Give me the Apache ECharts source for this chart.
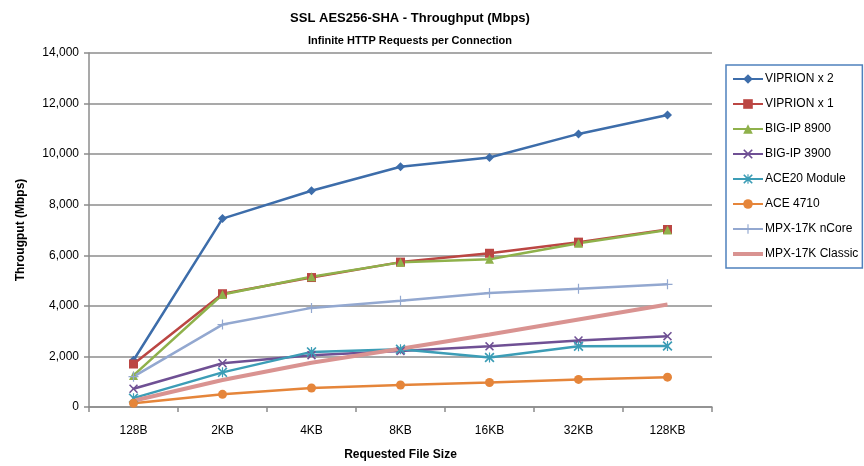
<!DOCTYPE html>
<html>
<head>
<meta charset="utf-8">
<script src="https://cdn.jsdelivr.net/npm/echarts@6/dist/echarts.min.js"></script>
<style>
  html, body { margin: 0; padding: 0; background: #fff; }
  #chart { width: 864px; height: 466px; }
</style>
</head>
<body>
<div id="chart"></div>
<script>
// Request file sizes on the x axis
const fileSizes = ['128B', '2KB', '4KB', '8KB', '16KB', '32KB', '128KB'];

// Throughput per platform (Mbps)
const viprion2   = [1850, 7450, 8550, 9500, 9870, 10800, 11550];
const viprion1   = [1700, 4480, 5120, 5730, 6080, 6520, 7020];
const bigip8900  = [1250, 4450, 5150, 5720, 5840, 6480, 7000];
const bigip3900  = [720, 1730, 2050, 2210, 2400, 2630, 2800];
const ace20      = [350, 1370, 2180, 2280, 1960, 2400, 2410];
const ace4710    = [150, 500, 750, 870, 970, 1090, 1180];
const mpxNCore   = [1200, 3260, 3920, 4200, 4510, 4680, 4850];
const mpxClassic = [250, 1070, 1750, 2300, 2870, 3460, 4050];

const yTicks = { min: 0, max: 14000, step: 2000 };

const FONT = '"Liberation Sans", "DejaVu Sans", sans-serif';

// Marker shapes
const xMark = 'path://M0,1.2 L1.2,0 L5,3.8 L8.8,0 L10,1.2 L6.2,5 L10,8.8 L8.8,10 L5,6.2 L1.2,10 L0,8.8 L3.8,5 Z';
const asterisk = 'path://M0,1.2 L1.2,0 L5,3.8 L8.8,0 L10,1.2 L6.2,5 L10,8.8 L8.8,10 L5,6.2 L1.2,10 L0,8.8 L3.8,5 Z M4.4,0 L5.6,0 L5.6,10 L4.4,10 Z';
const plusMark = 'path://M4.4,0 L5.6,0 L5.6,4.4 L10,4.4 L10,5.6 L5.6,5.6 L5.6,10 L4.4,10 L4.4,5.6 L0,5.6 L0,4.4 L4.4,4.4 Z';
const plainLine = 'path://M0,0 L30,0 L30,4 L0,4 Z';

function makeSeries(name, data, color, symbol, size, width) {
  return {
    name: name,
    type: 'line',
    data: data,
    symbol: symbol,
    symbolSize: size,
    showAllSymbol: true,
    lineStyle: { color: color, width: width },
    itemStyle: { color: color },
    emphasis: { disabled: true },
    z: 3
  };
}

const series = [
  makeSeries('VIPRION x 2', viprion2, '#3D6DAA', 'diamond', 9, 2.5),
  makeSeries('VIPRION x 1', viprion1, '#BB4643', 'rect', 9, 2.5),
  makeSeries('BIG-IP 8900', bigip8900, '#8FB14B', 'triangle', 9, 2.5),
  makeSeries('BIG-IP 3900', bigip3900, '#6F5094', xMark, 9, 2.5),
  makeSeries('ACE20 Module', ace20, '#3C9DB6', asterisk, 10, 2.5),
  makeSeries('ACE 4710', ace4710, '#E5853A', 'circle', 9, 2.5),
  makeSeries('MPX-17K nCore', mpxNCore, '#93A8D0', plusMark, 10, 2.5),
  makeSeries('MPX-17K Classic', mpxClassic, '#D99391', 'none', 0, 4)
];

const legendItems = series.map(s =>
  s.symbol === 'none' ? { name: s.name, icon: plainLine } : { name: s.name }
);

const chart = echarts.init(document.getElementById('chart'), null, { renderer: 'canvas' });

chart.setOption({
  animation: false,
  backgroundColor: '#ffffff',
  textStyle: { fontFamily: FONT },
  title: {
    text: 'SSL AES256-SHA - Throughput (Mbps)',
    subtext: 'Infinite HTTP Requests per Connection',
    left: 405,
    textAlign: 'center',
    top: 7,
    itemGap: 10,
    textStyle: { fontFamily: FONT, fontSize: 13, fontWeight: 'bold', color: '#000' },
    subtextStyle: { fontFamily: FONT, fontSize: 11, fontWeight: 'bold', color: '#000' }
  },
  legend: {
    orient: 'vertical',
    left: 726,
    top: 65,
    width: 136,
    padding: [8, 4, 8, 6],
    itemWidth: 30,
    itemHeight: 12,
    itemGap: 13,
    borderColor: '#4F81BD',
    borderWidth: 1.5,
    textStyle: { fontFamily: FONT, fontSize: 12, color: '#000', padding: [0, 0, 0, -3] },
    data: legendItems
  },
  grid: {
    left: 89,
    right: 152,
    top: 53,
    bottom: 57,
    containLabel: false
  },
  xAxis: {
    type: 'category',
    data: fileSizes,
    boundaryGap: true,
    name: 'Requested File Size',
    nameLocation: 'middle',
    nameGap: 42,
    nameTextStyle: { fontFamily: FONT, fontSize: 12, fontWeight: 'bold', color: '#000' },
    axisLine: { lineStyle: { color: '#8C8C8C', width: 1.5 } },
    axisTick: { show: true, length: 5, lineStyle: { color: '#8C8C8C', width: 1.5 } },
    axisLabel: { fontFamily: FONT, fontSize: 12, color: '#000', margin: 18 },
    splitLine: { show: false }
  },
  yAxis: {
    type: 'value',
    min: yTicks.min,
    max: yTicks.max,
    interval: yTicks.step,
    name: 'Througput (Mbps)',
    nameLocation: 'middle',
    nameRotate: 90,
    nameGap: 62,
    nameTextStyle: { fontFamily: FONT, fontSize: 12, fontWeight: 'bold', color: '#000' },
    axisLine: { show: true, lineStyle: { color: '#8C8C8C', width: 1.5 } },
    axisTick: { show: true, length: 5, lineStyle: { color: '#8C8C8C', width: 1.5 } },
    axisLabel: {
      fontFamily: FONT, fontSize: 12, color: '#000', margin: 10,
      formatter: v => v.toLocaleString('en-US')
    },
    splitLine: { show: true, lineStyle: { color: '#8C8C8C', width: 1.5 } }
  },
  series: series
});
</script>
</body>
</html>
